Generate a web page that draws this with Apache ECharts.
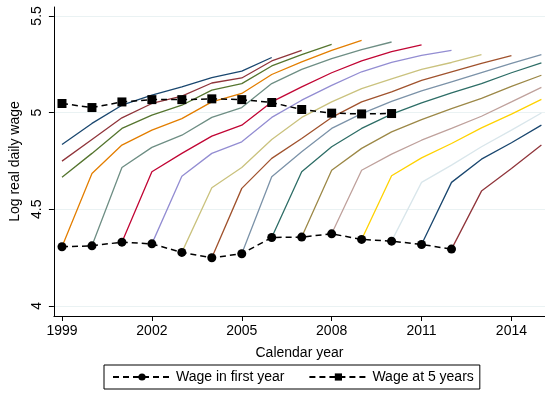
<!DOCTYPE html>
<html>
<head>
<meta charset="utf-8">
<script src="https://cdn.jsdelivr.net/npm/echarts@6/dist/echarts.min.js"></script>
<style>
  html, body { margin: 0; padding: 0; background: #fff; }
  #chart { width: 545px; height: 393px; }
</style>
</head>
<body>
<div id="chart"></div>
<script>
// calendar years on the x axis
var years = [1999, 2000, 2001, 2002, 2003, 2004, 2005, 2006, 2007, 2008, 2009, 2010, 2011, 2012, 2013, 2014, 2015];
var xTicks = [1999, 2002, 2005, 2008, 2011, 2014];
var yTicks = [4, 4.5, 5, 5.5];

// log real daily wage per entry cohort, aligned with years (null = not observed)
var c1996 = [4.835, 4.944, 5.038, 5.090, 5.133, 5.181, 5.214, 5.285, null, null, null, null, null, null, null, null, null];
var c1997 = [4.749, 4.861, 4.973, 5.047, 5.085, 5.153, 5.179, 5.267, 5.322, null, null, null, null, null, null, null, null];
var c1998 = [4.665, 4.789, 4.918, 4.987, 5.038, 5.116, 5.150, 5.241, 5.300, 5.353, null, null, null, null, null, null, null];
var c1999 = [4.306, 4.685, 4.832, 4.909, 4.969, 5.055, 5.099, 5.197, 5.262, 5.322, 5.374, null, null, null, null, null, null];
var c2000 = [null, 4.311, 4.716, 4.820, 4.883, 4.975, 5.026, 5.150, 5.223, 5.279, 5.326, 5.365, null, null, null, null, null];
var c2001 = [null, null, 4.330, 4.694, 4.789, 4.878, 4.935, 5.055, 5.133, 5.206, 5.267, 5.315, 5.350, null, null, null, null];
var c2002 = [null, null, null, 4.321, 4.671, 4.789, 4.849, 4.975, 5.064, 5.141, 5.211, 5.260, 5.296, 5.322, null, null, null];
var c2003 = [null, null, null, null, 4.277, 4.611, 4.716, 4.861, 4.975, 5.055, 5.124, 5.174, 5.223, 5.259, 5.300, null, null];
var c2004 = [null, null, null, null, null, 4.249, 4.608, 4.763, 4.866, 4.975, 5.055, 5.107, 5.167, 5.211, 5.254, 5.295, null];
var c2005 = [null, null, null, null, null, null, 4.270, 4.668, 4.797, 4.918, 4.995, 5.058, 5.112, 5.159, 5.206, 5.254, 5.300];
var c2006 = [null, null, null, null, null, null, null, 4.354, 4.694, 4.823, 4.918, 4.992, 5.050, 5.102, 5.150, 5.206, 5.257];
var c2007 = [null, null, null, null, null, null, null, null, 4.356, 4.702, 4.815, 4.900, 4.964, 5.021, 5.073, 5.136, 5.193];
var c2008 = [null, null, null, null, null, null, null, null, null, 4.373, 4.702, 4.785, 4.857, 4.918, 4.981, 5.055, 5.130];
var c2009 = [null, null, null, null, null, null, null, null, null, null, 4.344, 4.673, 4.766, 4.840, 4.921, 4.992, 5.068];
var c2010 = [null, null, null, null, null, null, null, null, null, null, null, 4.335, 4.639, 4.728, 4.823, 4.909, 4.998];
var c2011 = [null, null, null, null, null, null, null, null, null, null, null, null, 4.318, 4.639, 4.759, 4.844, 4.935];
var c2012 = [null, null, null, null, null, null, null, null, null, null, null, null, null, 4.294, 4.594, 4.711, 4.832];

// summary series
var firstYearWage = [4.306, 4.311, 4.330, 4.321, 4.277, 4.249, 4.270, 4.354, 4.356, 4.373, 4.344, 4.335, 4.318, 4.294];
var fiveYearWage = [5.047, 5.026, 5.055, 5.067, 5.067, 5.071, 5.067, 5.052, 5.016, 4.997, 4.993, 4.995];

// stata s2color palette
var palette = ['#1a476f', '#90353b', '#55752f', '#e37e00', '#6e8e84', '#c10534', '#938dd2', '#cac27e',
               '#a0522d', '#7b92a8', '#2d6d66', '#9c8847', '#bfa19c', '#ffd200', '#d9e6eb'];

var cohorts = [c1996, c1997, c1998, c1999, c2000, c2001, c2002, c2003, c2004, c2005, c2006, c2007, c2008, c2009, c2010, c2011, c2012];

function pairs(vals) {
    var out = [];
    for (var i = 0; i < vals.length; i++) {
        if (vals[i] != null) out.push([years[i], vals[i]]);
    }
    return out;
}

var series = [];
cohorts.forEach(function(arr, i) {
    series.push({
        name: 'cohort' + i,
        type: 'line',
        data: pairs(arr),
        showSymbol: false,
        symbol: 'none',
        silent: true,
        lineStyle: { color: palette[i % palette.length], width: 1.3 },
        z: 2
    });
});

series.push({
    name: 'Wage in first year',
    type: 'line',
    data: pairs(firstYearWage),
    symbol: 'circle',
    symbolSize: 9,
    itemStyle: { color: '#000' },
    lineStyle: { color: '#000', width: 1.5, type: [6, 4] },
    z: 5
});
series.push({
    name: 'Wage at 5 years',
    type: 'line',
    data: pairs(fiveYearWage),
    symbol: 'rect',
    symbolSize: 9,
    itemStyle: { color: '#000' },
    lineStyle: { color: '#000', width: 1.5, type: [6, 4] },
    z: 5
});

var chart = echarts.init(document.getElementById('chart'));
var font = 'Liberation Sans, Arial, sans-serif';

var option = {
    animation: false,
    backgroundColor: '#fff',
    textStyle: { fontFamily: font },
    grid: { left: 49, right: 0, top: 7, bottom: 77 },
    legend: {
        data: ['Wage in first year', 'Wage at 5 years'],
        left: 104,
        bottom: 4,
        itemWidth: 58,
        itemHeight: 9,
        itemGap: 24,
        padding: [5, 6, 5, 8],
        borderColor: '#000',
        borderWidth: 1,
        borderRadius: 0,
        textStyle: { fontSize: 14, color: '#000', fontFamily: font }
    },
    xAxis: {
        type: 'value',
        min: 1998.73,
        max: 2015.12,
        name: 'Calendar year',
        nameLocation: 'middle',
        nameGap: 30,
        nameTextStyle: { fontSize: 14, color: '#000', fontFamily: font },
        axisLine: { onZero: false, lineStyle: { color: '#000', width: 1 } },
        axisTick: { show: true, length: 5, customValues: xTicks, lineStyle: { color: '#000' } },
        axisLabel: { customValues: xTicks, fontSize: 14, color: '#000', margin: 8, formatter: function(v) { return String(v); } },
        splitLine: { show: false }
    },
    yAxis: {
        type: 'value',
        min: 3.948,
        max: 5.546,
        name: 'Log real daily wage',
        nameLocation: 'middle',
        nameGap: 31,
        nameTextStyle: { fontSize: 14, color: '#000', fontFamily: font },
        axisLine: { show: true, onZero: false, lineStyle: { color: '#000', width: 1 } },
        axisTick: { show: true, length: 5, customValues: yTicks, lineStyle: { color: '#000' } },
        axisLabel: { customValues: yTicks, rotate: 90, fontSize: 14, color: '#000', margin: 10, formatter: function(v) { return String(v); } },
        splitLine: { show: true, lineStyle: { color: '#eaf2f3', width: 1 } }
    },
    series: series
};

chart.setOption(option);
</script>
</body>
</html>
